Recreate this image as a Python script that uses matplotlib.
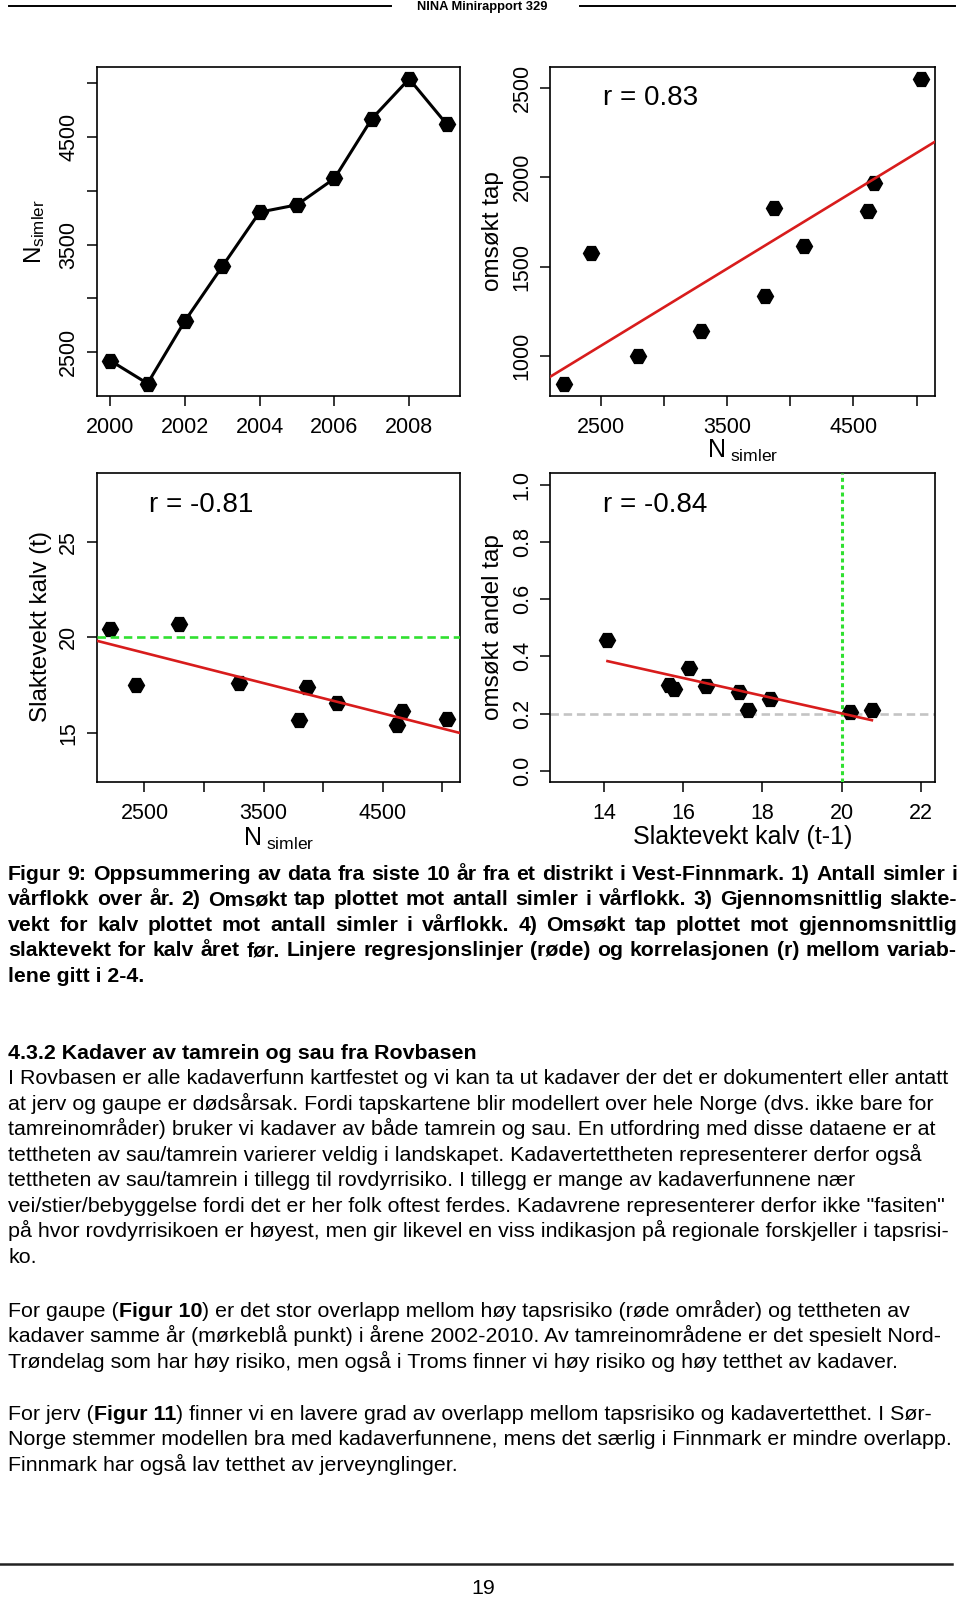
import numpy as np
import matplotlib
matplotlib.use('Agg')
import matplotlib.pyplot as plt
from matplotlib import font_manager
from matplotlib.lines import Line2D

# values
years = [2000, 2001, 2002, 2003, 2004, 2005, 2006, 2007, 2008, 2009]
n_simler = [2425, 2212, 2792, 3297, 3800, 3868, 4112, 4665, 5035, 4617]
omsokt_tap = [1577, 847, 1002, 1142, 1334, 1826, 1616, 1966, 2549, 1811]
slaktevekt = [17.49, 20.45, 20.70, 17.63, 15.65, 17.42, 16.54, 16.13, 15.71, 15.38]
slaktevekt_prev = [14.09, 15.65, 15.76, 16.14, 16.57, 17.42, 17.64, 18.18, 20.22, 20.76]
andel_tap = [0.456, 0.300, 0.285, 0.359, 0.297, 0.277, 0.213, 0.251, 0.207, 0.214]
r_labels = ['r = 0.83', 'r = -0.81', 'r = -0.84']

caption = [
    "Figur 9: Oppsummering av data fra siste 10 år fra et distrikt i Vest-Finnmark. 1) Antall simler i",
    "vårflokk over år. 2) Omsøkt tap plottet mot antall simler i vårflokk. 3) Gjennomsnittlig slakte-",
    "vekt for kalv plottet mot antall simler i vårflokk. 4) Omsøkt tap plottet mot gjennomsnittlig",
    "slaktevekt for kalv året før. Linjere regresjonslinjer (røde) og korrelasjonen (r) mellom variab-",
    "lene gitt i 2-4.",
]
heading = "4.3.2 Kadaver av tamrein og sau fra Rovbasen"
para1 = [
    "I Rovbasen er alle kadaverfunn kartfestet og vi kan ta ut kadaver der det er dokumentert eller antatt",
    "at jerv og gaupe er dødsårsak. Fordi tapskartene blir modellert over hele Norge (dvs. ikke bare for",
    "tamreinområder) bruker vi kadaver av både tamrein og sau. En utfordring med disse dataene er at",
    "tettheten av sau/tamrein varierer veldig i landskapet. Kadavertettheten representerer derfor også",
    "tettheten av sau/tamrein i tillegg til rovdyrrisiko. I tillegg er mange av kadaverfunnene nær",
    "vei/stier/bebyggelse fordi det er her folk oftest ferdes. Kadavrene representerer derfor ikke \"fasiten\"",
    "på hvor rovdyrrisikoen er høyest, men gir likevel en viss indikasjon på regionale forskjeller i tapsrisi-",
    "ko.",
]
para2 = [
    "For gaupe (*Figur 10*) er det stor overlapp mellom høy tapsrisiko (røde områder) og tettheten av",
    "kadaver samme år (mørkeblå punkt) i årene 2002-2010. Av tamreinområdene er det spesielt Nord-",
    "Trøndelag som har høy risiko, men også i Troms finner vi høy risiko og høy tetthet av kadaver.",
]
para3 = [
    "For jerv (*Figur 11*) finner vi en lavere grad av overlapp mellom tapsrisiko og kadavertetthet. I Sør-",
    "Norge stemmer modellen bra med kadaverfunnene, mens det særlig i Finnmark er mindre overlapp.",
    "Finnmark har også lav tetthet av jerveynglinger.",
]

W, H = 960, 1599
plt.rcParams.update({'font.family': 'Liberation Sans',
                     'mathtext.fontset': 'custom',
                     'mathtext.rm': 'Liberation Sans',
                     'mathtext.it': 'Liberation Sans:italic',
                     'mathtext.default': 'rm'})
fig = plt.figure(figsize=(W / 100, H / 100), dpi=100)

RED = '#d81c1c'
GREEN = '#30e030'
MS = 11.5


def panel(l, t, r, b):
    ax = fig.add_axes([l / W, 1 - b / H, (r - l) / W, (b - t) / H])
    for s in ax.spines.values():
        s.set_linewidth(1.2)
    ax.tick_params(direction='out', length=7.5, width=1.1, labelsize=15.5)
    ax.tick_params(axis='x', pad=7.5)
    ax.tick_params(axis='y', labelrotation=90, pad=5)
    return ax


def fix_y(ax):
    for lab in ax.get_yticklabels():
        lab.set_va('center')


YLBL = 17.5
XLBL = 18
RTXT = 20

# 1) N simler over years
ax1 = panel(96.7, 66.7, 460, 395.7)
ax1.plot(years, n_simler, color='black', lw=2.2, marker='H', ms=MS, zorder=3)
ax1.margins(x=0.04, y=0.04)
ax1.set_xticks(range(2000, 2009, 2))
ax1.set_yticks(range(2500, 5001, 500))
ax1.set_yticklabels(['2500', '', '3500', '', '4500', ''])
fix_y(ax1)
ax1.set_ylabel(r'$\mathrm{N}_{\mathrm{simler}}$', fontsize=YLBL, va='center')
ax1.yaxis.set_label_coords(-0.17, 0.50)

# 2) omsokt tap vs N simler
ax2 = panel(550, 66.7, 935.3, 395.7)
ax2.plot(n_simler, omsokt_tap, ls='none', color='black', marker='H', ms=MS, zorder=3)
b2, a2 = np.polyfit(n_simler, omsokt_tap, 1)
ax2.axline((np.mean(n_simler), a2 + b2 * np.mean(n_simler)), slope=b2, color=RED, lw=1.9, zorder=4)
ax2.margins(x=0.04, y=0.04)
ax2.set_xticks(range(2500, 5001, 500))
ax2.set_xticklabels(['2500', '', '3500', '', '4500', ''])
ax2.set_yticks(range(1000, 2501, 500))
fix_y(ax2)
ax2.set_ylabel('omsøkt tap', fontsize=YLBL, va='center')
ax2.yaxis.set_label_coords(-0.148, 0.50)
ax2.set_xlabel(r'$\mathrm{N}_{\ \mathrm{simler}}$', fontsize=XLBL, va='center')
ax2.xaxis.set_label_coords(0.5, -0.168)
ax2.text(0.26, 0.904, r_labels[0], transform=ax2.transAxes, fontsize=RTXT, ha='center', va='center')

# 3) slaktevekt vs N simler
ax3 = panel(96.7, 473.3, 460, 782.3)
ax3.plot(n_simler, slaktevekt, ls='none', color='black', marker='H', ms=MS, zorder=3)
b3, a3 = np.polyfit(n_simler, slaktevekt, 1)
ax3.axline((np.mean(n_simler), a3 + b3 * np.mean(n_simler)), slope=b3, color=RED, lw=1.9, zorder=4)
ax3.axhline(20, color=GREEN, lw=1.9, ls=(0, (3.2, 1.8)), zorder=4)
ax3.margins(x=0.04)
ax3.set_ylim(12.4, 28.6)
ax3.set_xticks(range(2500, 5001, 500))
ax3.set_xticklabels(['2500', '', '3500', '', '4500', ''])
ax3.set_yticks([15, 20, 25])
fix_y(ax3)
ax3.set_ylabel('Slaktevekt kalv (t)', fontsize=YLBL, va='center')
ax3.yaxis.set_label_coords(-0.152, 0.503)
ax3.set_xlabel(r'$\mathrm{N}_{\ \mathrm{simler}}$', fontsize=XLBL, va='center')
ax3.xaxis.set_label_coords(0.5, -0.182)
ax3.text(0.287, 0.897, r_labels[1], transform=ax3.transAxes, fontsize=RTXT, ha='center', va='center')

# 4) andel tap vs slaktevekt året før
ax4 = panel(550, 473.3, 935.3, 782.3)
ax4.axhline(0.2, color='#c4c4c4', lw=1.9, ls=(0, (3.2, 1.8)), zorder=2)
ax4.axvline(20, color=GREEN, lw=2.2, ls=(0, (1.3, 1.1)), zorder=4)
ax4.plot(slaktevekt_prev, andel_tap, ls='none', color='black', marker='H', ms=MS, zorder=3)
b4, a4 = np.polyfit(slaktevekt_prev, andel_tap, 1)
xs = np.array([min(slaktevekt_prev), max(slaktevekt_prev)])
ax4.plot(xs, a4 + b4 * xs, color=RED, lw=1.9, zorder=4)
ax4.set_xlim(12.64, 22.36)
ax4.set_ylim(-0.04, 1.04)
ax4.set_xticks(range(14, 23, 2))
ax4.set_yticks(np.arange(0, 1.01, 0.2))
ax4.set_yticklabels(['0.0', '0.2', '0.4', '0.6', '0.8', '1.0'])
fix_y(ax4)
ax4.set_ylabel('omsøkt andel tap', fontsize=YLBL, va='center')
ax4.yaxis.set_label_coords(-0.148, 0.503)
ax4.set_xlabel('Slaktevekt kalv (t-1)', fontsize=XLBL, va='center')
ax4.xaxis.set_label_coords(0.5, -0.176)
ax4.text(0.272, 0.897, r_labels[2], transform=ax4.transAxes, fontsize=RTXT, ha='center', va='center')

# ---- page text ----
names = {f.name for f in font_manager.fontManager.ttflist}
fam = 'Liberation Sans Narrow' if 'Liberation Sans Narrow' in names else 'Liberation Sans'
rend = fig.canvas.get_renderer()


def tw(s, size, weight):
    t = fig.text(0, 0, s, size=size, weight=weight, family=fam)
    w = t.get_window_extent(renderer=rend).width
    t.remove()
    return w


def base_y(y, size):
    # line centre (px from top) -> baseline in figure fraction
    return 1 - (y + 0.3 * size * 100 / 72) / H


def put_runs(line, y, size, bold=False, x0=8):
    x = x0
    for i, seg in enumerate(line.split('*')):
        if not seg:
            continue
        wgt = 'bold' if (bold or i % 2 == 1) else 'normal'
        fig.text(x / W, base_y(y, size), seg, size=size, weight=wgt, family=fam,
                 va='baseline', ha='left')
        x += tw(seg, size, wgt)


def put_justified(line, y, size, x0=8, x1=957):
    words = line.split(' ')
    ws = [tw(w, size, 'bold') for w in words]
    gap = (x1 - x0 - sum(ws)) / (len(words) - 1)
    x = x0
    for w, wd in zip(words, ws):
        fig.text(x / W, base_y(y, size), w, size=size, weight='bold', family=fam,
                 va='baseline', ha='left')
        x += wd + gap


body_size = 10 * 943 / tw(para1[0], 10, 'normal')
cap_size = 10 * 942 / max(tw(l, 10, 'bold') for l in caption[:4])

step = 25.5
for i, line in enumerate(caption):
    y = 873.5 + i * step
    if i < 4:
        put_justified(line, y, cap_size)
    else:
        put_runs(line, y, cap_size, bold=True)

put_runs(heading, 1052.5, body_size, bold=True)
for i, line in enumerate(para1):
    put_runs(line, 1078 + i * step, body_size)
for i, line in enumerate(para2):
    put_runs(line, 1310.5 + i * step, body_size)
for i, line in enumerate(para3):
    put_runs(line, 1413.5 + i * step, body_size)

# header and footer
head_size = 10 * 130 / tw("NINA Minirapport 329", 10, 'bold')
fig.text(482 / W, 1 - 7 / H, "NINA Minirapport 329", size=head_size, weight='bold', family=fam,
         ha='center', va='center')
fig.add_artist(Line2D([9 / W, 391 / W], [1 - 6 / H] * 2, color='black', lw=1.4))
fig.add_artist(Line2D([580 / W, 955 / W], [1 - 6 / H] * 2, color='black', lw=1.4))
fig.add_artist(Line2D([0, 952 / W], [1 - 1564 / H] * 2, color='#222222', lw=1.8))
fig.text(483 / W, 1 - 1588 / H, "19", size=body_size, family=fam, ha='center', va='center')

fig.savefig('out.png', dpi=100)
